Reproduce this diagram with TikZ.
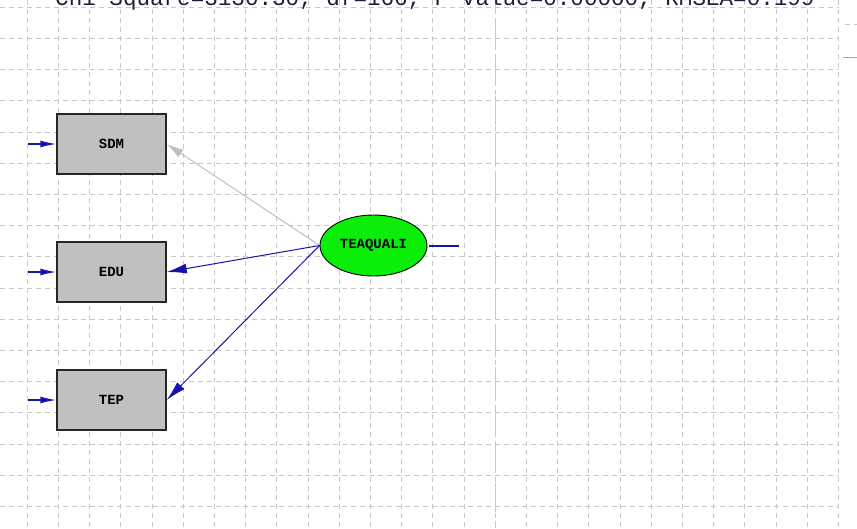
\documentclass[tikz,border=0pt]{standalone}
\usepackage{fontspec}
\setmonofont{Liberation Mono}
\usetikzlibrary{arrows.meta,shapes.geometric}
\definecolor{lblue}{RGB}{20,20,170}
\definecolor{boxgray}{RGB}{192,192,192}
\definecolor{lgreen}{RGB}{10,238,10}
\definecolor{gridgray}{RGB}{200,200,200}
\definecolor{arrowgray}{RGB}{190,190,190}
\definecolor{titlecol}{RGB}{30,30,60}
\tikzset{
  gridline/.style={draw=gridgray, line width=1pt, dash pattern=on 5pt off 4pt},
  axisline/.style={draw=gridgray, line width=1.4pt, dash pattern=on 29pt off 9.7pt, dash phase=-18.3pt},
  obsbox/.style={rectangle, draw=black!85, fill=boxgray, line width=1.4pt, minimum width=109pt, minimum height=60pt, inner sep=0pt, font=\ttfamily\bfseries\fontsize{14}{14}\selectfont},
  latent/.style={ellipse, draw=black, fill=lgreen, line width=0.9pt, minimum width=107pt, minimum height=61pt, inner sep=0pt, font=\ttfamily\bfseries\fontsize{14}{14}\selectfont},
  errarrow/.style={draw=lblue, line width=1.5pt, -{Latex[length=16pt,width=7pt]}},
  loadblue/.style={draw=lblue, line width=1pt, -{Latex[length=20pt,width=10pt]}},
  loadgray/.style={draw=arrowgray, line width=1pt, -{Latex[length=17pt,width=9pt]}},
  errline/.style={draw=lblue, line width=1.5pt}
}
\begin{document}
\begin{tikzpicture}[x=1pt,y=-1pt]
\useasboundingbox (0,0) rectangle (857,528);
\clip (0,0) rectangle (857,528);
% grid
\foreach \i in {0,...,26} \draw[gridline] ({27.3+31.2*\i},0) -- ({27.3+31.2*\i},528);
\foreach \j in {0,...,16} \draw[gridline] (0,{7.3+31.2*\j}) -- (838.5,{7.3+31.2*\j});
\draw[axisline] (495.3,0) -- (495.3,528);
% window edge fragments
\draw[gridline] (845,24) -- (857,24);
\draw[draw=gray!70, line width=1pt] (843,57) -- (857,57);
% title
\node[anchor=base west, inner sep=0pt, text=titlecol, font=\ttfamily\fontsize{22.6}{22.6}\selectfont] (title) at (55,5) {Chi-Square=3130.30, df=166, P-value=0.00000, RMSEA=0.199};
% nodes
\node[obsbox] (SDM) at (111.5,144) {SDM};
\node[obsbox] (EDU) at (111.5,272) {EDU};
\node[obsbox] (TEP) at (111.5,400) {TEP};
\node[latent] (TQ) at (373.5,245.5) {TEAQUALI};
% error terms
\coordinate (e1) at (28,144);
\coordinate (e2) at (28,272);
\coordinate (e3) at (28,400);
\coordinate (eT) at (459,246);
\coordinate (eS) at (429,246);
\draw[errarrow] (e1) -- (SDM.west);
\draw[errarrow] (e2) -- (EDU.west);
\draw[errarrow] (e3) -- (TEP.west);
\draw[errline] (eS) -- (eT);
% loadings
\draw[loadgray] (TQ.west) -- (SDM.east);
\draw[loadblue] (TQ.west) -- (EDU.east);
\draw[loadblue] (TQ.west) -- (TEP.east);
\end{tikzpicture}
\end{document}
